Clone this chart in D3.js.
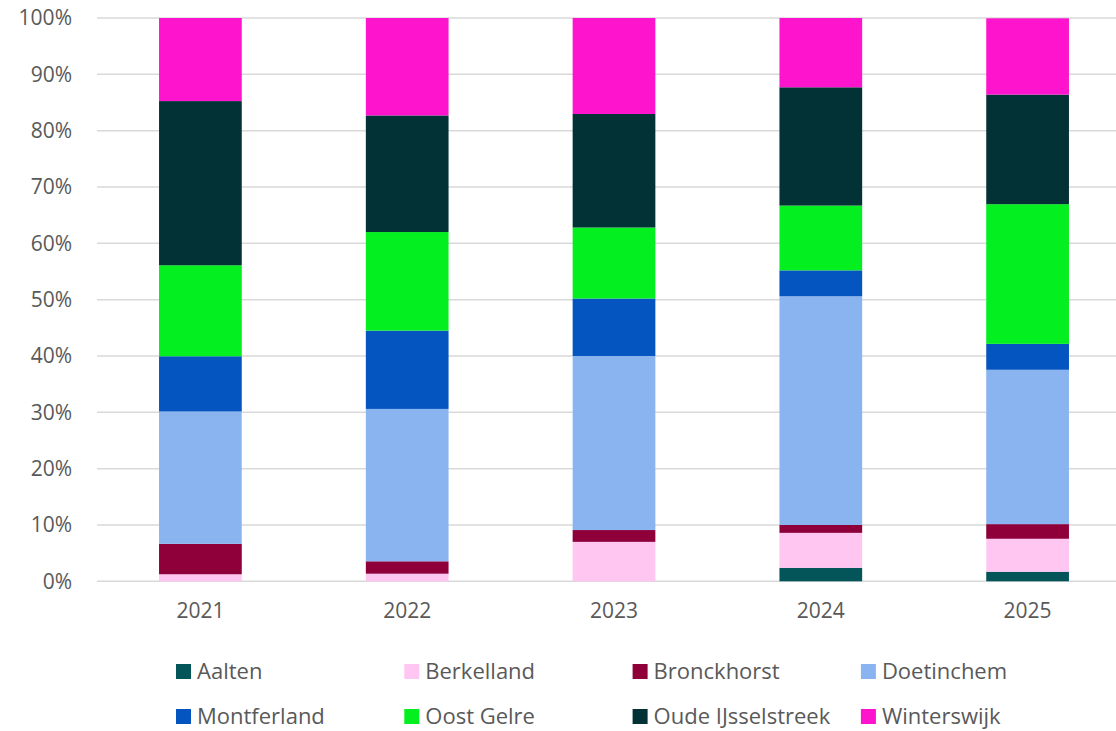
<!DOCTYPE html>
<html>
<head>
<meta charset="utf-8">
<script src="https://cdn.jsdelivr.net/npm/d3@7"></script>
<style>
  html, body { margin: 0; padding: 0; background: #fff; }
  svg { display: block; font-family: "Open Sans", "Noto Sans", sans-serif; }
</style>
</head>
<body>
<div id="chart"></div>
<script>
// ---------- Data ----------
const years = ['2021', '2022', '2023', '2024', '2025'];
const municipalities = ['Aalten', 'Berkelland', 'Bronckhorst', 'Doetinchem',
  'Montferland', 'Oost Gelre', 'Oude IJsselstreek', 'Winterswijk'];
const colors = ['#045559', '#ffc6f2', '#8f003b', '#8ab4f0',
  '#0455bf', '#04ef1f', '#033236', '#ff14ce'];

// share per municipality (%), one value per year
const aalten      = [0,     0,     0,     2.4,  1.7];
const berkelland  = [1.25,  1.35,  7.0,   6.2,  5.85];
const bronckhorst = [5.4,   2.2,   2.1,   1.4,  2.6];
const doetinchem  = [23.5,  27.05, 30.9,  40.6, 27.4];
const montferland = [9.8,   13.9,  10.2,  4.6,  4.6];
const oostGelre   = [16.15, 17.5,  12.6,  11.5, 24.8];
const oudeIJssel  = [29.15, 20.7,  20.16, 21.0, 19.45];
const winterswijk = [14.75, 17.3,  17.04, 12.3, 13.55];

const yTicks = [0, 10, 20, 30, 40, 50, 60, 70, 80, 90, 100];

const series = [aalten, berkelland, bronckhorst, doetinchem,
  montferland, oostGelre, oudeIJssel, winterswijk];

// rows for d3.stack
const rows = years.map((y, i) => {
  const r = { year: y };
  municipalities.forEach((m, k) => { r[m] = series[k][i]; });
  return r;
});

// ---------- Layout ----------
const width = 1116, height = 731;
const plotLeft = 97, plotRight = 1131, plotTop = 18, plotBottom = 581.3;
const textColor = '#595959';

const svg = d3.select('#chart').append('svg')
  .attr('width', width)
  .attr('height', height);

const x = d3.scaleBand()
  .domain(years)
  .range([plotLeft, plotRight])
  .paddingInner(0.6)
  .paddingOuter(0.3);

const y = d3.scaleLinear()
  .domain([0, 100])
  .range([plotBottom, plotTop]);

const color = d3.scaleOrdinal().domain(municipalities).range(colors);

// gridlines
svg.append('g')
  .selectAll('line')
  .data(yTicks)
  .join('line')
  .attr('x1', plotLeft)
  .attr('x2', plotRight)
  .attr('y1', d => y(d))
  .attr('y2', d => y(d))
  .attr('stroke', '#d9d9d9')
  .attr('stroke-width', 1.5);

// y axis labels
const yAxis = svg.append('g')
  .attr('transform', `translate(${plotLeft - 25},0)`)
  .call(d3.axisLeft(y).tickValues(yTicks).tickSize(0).tickPadding(0).tickFormat(d => d + '%'));
yAxis.select('.domain').remove();
yAxis.selectAll('text')
  .attr('fill', textColor)
  .style('font-size', '21px')
  .style('font-family', '"Open Sans", sans-serif');

// x axis labels
const xAxis = svg.append('g')
  .attr('transform', `translate(0,${plotBottom + 22})`)
  .call(d3.axisBottom(x).tickSize(0).tickPadding(0));
xAxis.select('.domain').remove();
xAxis.selectAll('text')
  .attr('fill', textColor)
  .style('font-size', '21px')
  .style('font-family', '"Open Sans", sans-serif');

// stacked bars
const stacked = d3.stack().keys(municipalities)(rows);

svg.append('g')
  .selectAll('g')
  .data(stacked)
  .join('g')
  .attr('fill', d => color(d.key))
  .selectAll('rect')
  .data(d => d)
  .join('rect')
  .attr('x', d => x(d.data.year))
  .attr('width', x.bandwidth())
  .attr('y', d => y(d[1]))
  .attr('height', d => Math.max(0, y(d[0]) - y(d[1])));

// legend
const legendX0 = 176, legendDX = 228.3, legendY0 = 664, legendDY = 45;
const legend = svg.append('g')
  .selectAll('g')
  .data(municipalities)
  .join('g')
  .attr('transform', (d, i) =>
    `translate(${legendX0 + (i % 4) * legendDX},${legendY0 + Math.floor(i / 4) * legendDY})`);

legend.append('rect')
  .attr('width', 15)
  .attr('height', 15)
  .attr('fill', d => color(d));

legend.append('text')
  .attr('x', 21)
  .attr('y', 15)
  .attr('fill', textColor)
  .style('font-size', '22px')
  .text(d => d);
</script>
</body>
</html>
